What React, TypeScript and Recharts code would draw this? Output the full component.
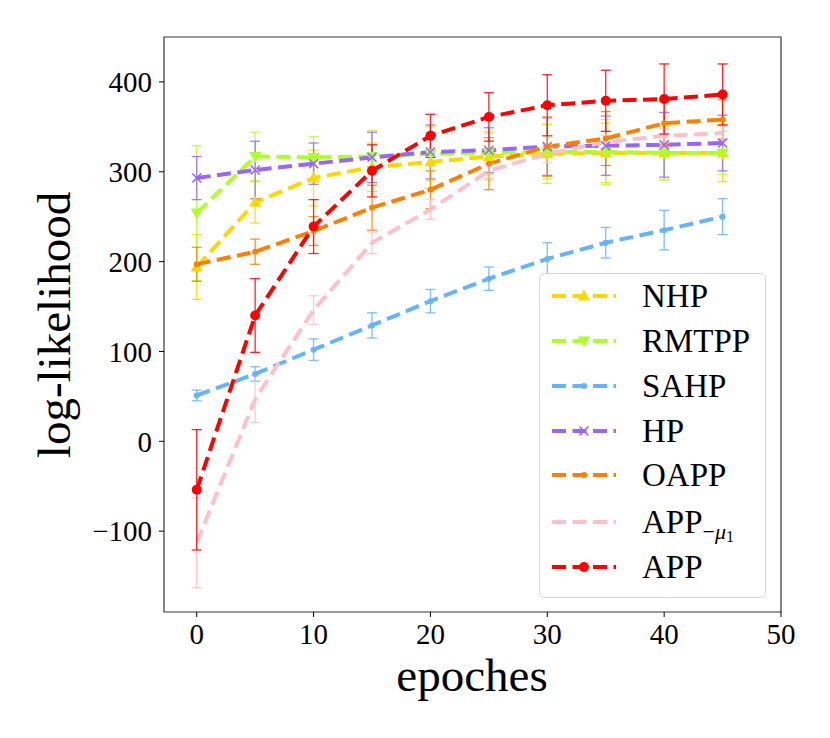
import React from 'react';
import {
  ComposedChart,
  Line,
  XAxis,
  YAxis,
  ErrorBar,
  ReferenceArea,
  Label,
} from 'recharts';

// epochs and mean log-likelihood (+/- std)
const epochs = [0, 5, 10, 15, 20, 25, 30, 35, 40, 45];

const nhp = [194, 266, 293, 305, 311, 317, 320, 321, 321, 321];
const nhpErr = [36, 23, 31, 27, 30, 26, 33, 33, 30, 32];

const rmtpp = [254, 317, 316, 317, 320, 321, 322, 322, 321, 321];
const rmtppErr = [75, 27, 23, 29, 30, 24, 30, 36, 30, 24];

const sahp = [51, 75, 102, 129, 156, 181, 203, 221, 235, 250];
const sahpErr = [6, 8, 12, 14, 13, 13, 18, 17, 22, 20];

const hp = [293, 302, 309, 316, 322, 324, 328, 329, 330, 332];
const hpErr = [24, 32, 23, 28, 30, 25, 32, 33, 36, 31];

const oapp = [197, 211, 234, 260, 280, 309, 328, 337, 354, 358];
const oappErr = [19, 14, 16, 25, 21, 29, 33, 30, 24, 22];

const appNoMu = [-113, 47, 146, 221, 258, 301, 320, 333, 340, 343];
const appNoMuErr = [50, 26, 16, 12, 11, 8, 10, 8, 8, 8];

const app = [-54, 140, 239, 301, 340, 361, 374, 379, 381, 386];
const appErr = [67, 41, 30, 29, 24, 27, 34, 34, 39, 34];

const xTicks = [0, 10, 20, 30, 40, 50];
const yTicks = [-100, 0, 100, 200, 300, 400];

type MarkerShape = 'triUp' | 'triDown' | 'point' | 'x' | 'circle' | 'none';

const series: {
  key: string;
  name: string;
  color: string;
  marker: MarkerShape;
  values: number[];
  err: number[];
}[] = [
  { key: 'nhp', name: 'NHP', color: '#ffd700', marker: 'triUp', values: nhp, err: nhpErr },
  { key: 'rmtpp', name: 'RMTPP', color: '#adff2f', marker: 'triDown', values: rmtpp, err: rmtppErr },
  { key: 'sahp', name: 'SAHP', color: '#66b3ff', marker: 'point', values: sahp, err: sahpErr },
  { key: 'hp', name: 'HP', color: '#9966ff', marker: 'x', values: hp, err: hpErr },
  { key: 'oapp', name: 'OAPP', color: '#ff8000', marker: 'point', values: oapp, err: oappErr },
  { key: 'appNoMu', name: 'APP', color: '#ffc0cb', marker: 'none', values: appNoMu, err: appNoMuErr },
  { key: 'app', name: 'APP', color: '#ff0000', marker: 'circle', values: app, err: appErr },
];

const data = epochs.map((epoch, i) => {
  const row: Record<string, number> = { epoch };
  series.forEach((s) => {
    row[s.key] = s.values[i];
    row[s.key + 'Err'] = s.err[i];
  });
  return row;
});

const FONT = '"Liberation Serif", "DejaVu Serif", serif';
const DASH = '14 6.5';

function Marker({ cx, cy, shape, color }: { cx?: number; cy?: number; shape: MarkerShape; color: string }) {
  if (cx == null || cy == null) return null;
  switch (shape) {
    case 'triUp':
      return <polygon points={`${cx},${cy - 6.5} ${cx - 6},${cy + 4.5} ${cx + 6},${cy + 4.5}`} fill={color} />;
    case 'triDown':
      return <polygon points={`${cx},${cy + 6.5} ${cx - 6},${cy - 4.5} ${cx + 6},${cy - 4.5}`} fill={color} />;
    case 'point':
      return <circle cx={cx} cy={cy} r={3} fill={color} />;
    case 'x':
      return (
        <path
          d={`M${cx - 4.5},${cy - 4.5}L${cx + 4.5},${cy + 4.5}M${cx - 4.5},${cy + 4.5}L${cx + 4.5},${cy - 4.5}`}
          stroke={color}
          strokeWidth={1.6}
        />
      );
    case 'circle':
      return <circle cx={cx} cy={cy} r={5} fill={color} />;
    default:
      return null;
  }
}

const fmt = (v: number) => (v < 0 ? `\u2212${Math.abs(v)}` : `${v}`);

function LegendBox() {
  const rows = [296, 341, 386, 431, 475, 522, 567];
  return (
    <svg width={830} height={738} style={{ position: 'absolute', left: 0, top: 0, pointerEvents: 'none' }}>
      <rect x={539.5} y={273.5} width={226} height={324} rx={5} fill="#fff" fillOpacity={0.85} stroke="#d6d6d6" strokeWidth={1} />
      {series.map((s, i) => (
        <g key={s.key}>
          <line x1={552} x2={616} y1={rows[i]} y2={rows[i]} stroke={s.color} strokeWidth={4} strokeDasharray={DASH} />
          <Marker cx={584} cy={rows[i]} shape={s.marker} color={s.color} />
          <text x={642} y={rows[i] + 11} fontFamily={FONT} fontSize={33} fill="#000">
            {s.name}
            {s.key === 'appNoMu' && (
              <tspan fontSize={22} dy={6}>
                {'\u2212'}
                <tspan fontStyle="italic">{'\u03bc'}</tspan>
                <tspan fontSize={16} dy={3}>1</tspan>
              </tspan>
            )}
          </text>
        </g>
      ))}
    </svg>
  );
}

export default function App() {
  return (
    <div style={{ position: 'absolute', left: 0, top: 0, width: 830, height: 738, background: '#fff' }}>
      <ComposedChart width={830} height={738} data={data} margin={{ top: 37, right: 49, left: 0, bottom: 0 }}>
        <XAxis
          dataKey="epoch"
          type="number"
          domain={[-2.8, 50]}
          ticks={xTicks}
          allowDataOverflow
          height={126}
          axisLine={false}
          tickSize={5}
          tickMargin={6}
          tickLine={{ stroke: '#000' }}
          tick={{ fill: '#000', fontSize: 29, fontFamily: FONT }}
        >
          <Label
            content={() => (
              <text x={472} y={691} textAnchor="middle" fontFamily={FONT} fontSize={47} fill="#000">
                epoches
              </text>
            )}
          />
        </XAxis>
        <YAxis
          type="number"
          domain={[-190, 450]}
          ticks={yTicks}
          allowDataOverflow
          width={164}
          axisLine={false}
          tickSize={5}
          tickMargin={7}
          tickLine={{ stroke: '#000' }}
          tickFormatter={fmt}
          tick={{ fill: '#000', fontSize: 29, fontFamily: FONT }}
        >
          <Label
            content={() => (
              <text
                x={70}
                y={325}
                transform="rotate(-90 70 325)"
                textAnchor="middle"
                fontFamily={FONT}
                fontSize={47}
                fill="#000"
              >
                log-likelihood
              </text>
            )}
          />
        </YAxis>
        <ReferenceArea x1={-2.8} x2={50} y1={-190} y2={450} fill="none" stroke="#333" strokeWidth={1.2} />
        {series.map((s) => (
          <Line
            key={s.key}
            type="linear"
            dataKey={s.key}
            stroke={s.color}
            strokeWidth={4}
            strokeDasharray={DASH}
            dot={(p: any) => <Marker key={`${s.key}-${p.index}`} cx={p.cx} cy={p.cy} shape={s.marker} color={s.color} />}
            activeDot={false}
            isAnimationActive={false}
          >
            <ErrorBar
              dataKey={s.key + 'Err'}
              direction="y"
              width={5}
              stroke={s.color}
              strokeWidth={1.3}
              strokeOpacity={0.85}
              isAnimationActive={false}
            />
          </Line>
        ))}
      </ComposedChart>
      <LegendBox />
    </div>
  );
}
